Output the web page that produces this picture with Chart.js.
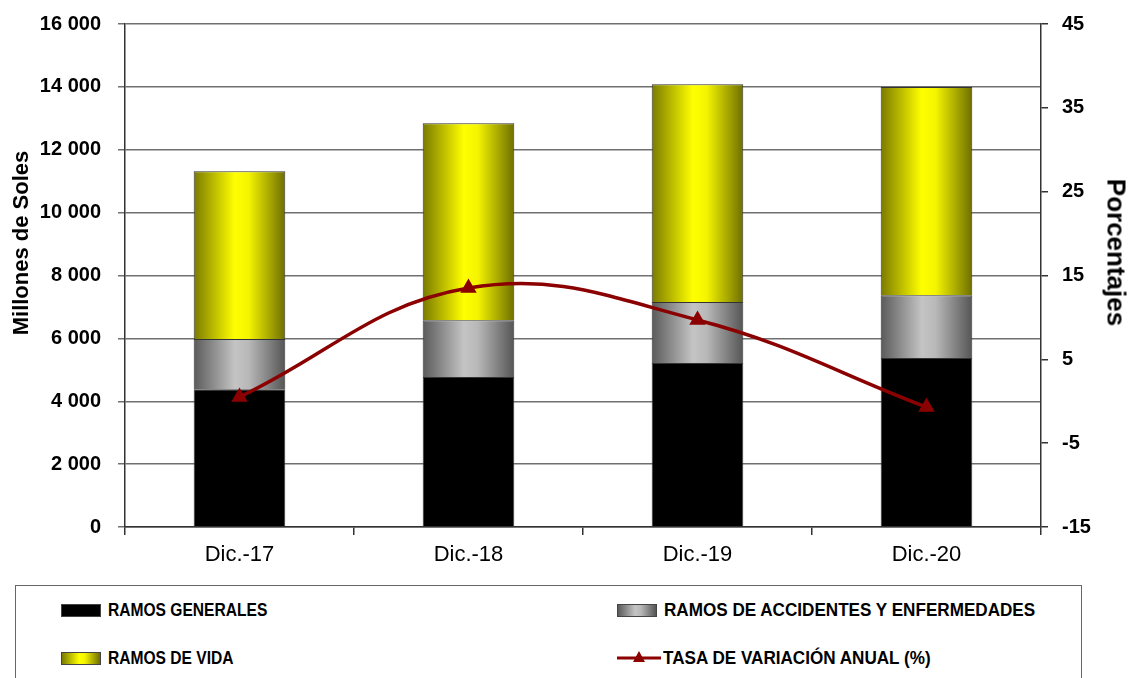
<!DOCTYPE html>
<html>
<head>
<meta charset="utf-8">
<script src="https://cdn.jsdelivr.net/npm/chart.js@4.4.1/dist/chart.umd.min.js"></script>
<style>
  html, body { margin: 0; padding: 0; background: #fff; }
  body { width: 1141px; height: 678px; position: relative; overflow: hidden;
         font-family: 'Liberation Sans', Arial, sans-serif; }
  #wrap { position: absolute; left: 0; top: 0; width: 1141px; height: 580px; }
  .ttl { position: absolute; font-weight: bold; color: #000; white-space: nowrap;
         transform-origin: center center; }
  #legend { position: absolute; left: 15px; top: 585px; width: 1067px; height: 110px;
            border: 1.5px solid #666; border-bottom: none; box-sizing: border-box; }
  .item { position: absolute; display: flex; align-items: center; font-weight: bold;
          font-size: 19px; color: #000; white-space: nowrap; height: 24px; }
  .item span { display: inline-block; transform-origin: left center; }
  .sw { width: 40px; height: 13px; margin-right: 7px; box-sizing: border-box; border: 1px solid #444; }
</style>
</head>
<body>
<div id="wrap"><canvas id="c"></canvas></div>
<div class="ttl" style="font-size:22px; left:-74px; top:230px; width:190px; text-align:center; transform:rotate(-90deg);">Millones de Soles</div>
<div class="ttl" style="font-size:26px; left:1041px; top:237px; width:150px; text-align:center; transform:rotate(90deg);">Porcentajes</div>
<div id="legend"></div>
<script>
// datos
const categorias = ['Dic.-17', 'Dic.-18', 'Dic.-19', 'Dic.-20'];
const ramosGenerales = [4380, 4770, 5215, 5375];
const ramosAccidentes = [1600, 1810, 1940, 2000];
const ramosVida = [5340, 6265, 6930, 6620];
const tasaVariacion = [0.5, 13.5, 9.7, -0.7];
const ticksIzq = [0, 2000, 4000, 6000, 8000, 10000, 12000, 14000, 16000];
const ticksDer = [-15, -5, 5, 15, 25, 35, 45];

const FONT = "'Liberation Sans', Arial, sans-serif";
const BAR_PCT = 0.4;
const ROJO = '#8B0000';

const GRIS = [[0, '#5a5a5a'], [0.45, '#c4c4c4'], [0.6, '#b8b8b8'], [1, '#555555']];
const AMARILLO = [[0, '#7a7a00'], [0.45, '#ffff00'], [0.6, '#f4f400'], [1, '#6e6e00']];

// degradado horizontal tipo cilindro para cada barra
function relleno(stops, solido) {
    return ctx => {
        const chart = ctx.chart;
        const area = chart.chartArea;
        if (!area || ctx.dataIndex === undefined || !chart.scales.x) return solido;
        const x = chart.scales.x.getPixelForValue(ctx.dataIndex);
        const w = (area.right - area.left) / categorias.length * BAR_PCT;
        const g = chart.ctx.createLinearGradient(x - w / 2, 0, x + w / 2, 0);
        stops.forEach(([o, c]) => g.addColorStop(o, c));
        return g;
    };
}

const fmt = v => String(v).replace(/\B(?=(\d{3})+(?!\d))/g, ' ');

// ancho fijo del eje y sin relleno extra arriba/abajo
const fijarEje = ancho => s => { s.width = ancho; s.paddingTop = 0; s.paddingBottom = 0; };

new Chart(document.getElementById('c'), {
    type: 'bar',
    data: {
        labels: categorias,
        datasets: [
            {
                label: 'RAMOS GENERALES', data: ramosGenerales, backgroundColor: '#000',
                borderColor: '#333', borderWidth: 1, order: 1
            },
            {
                label: 'RAMOS DE ACCIDENTES Y ENFERMEDADES', data: ramosAccidentes,
                backgroundColor: relleno(GRIS, '#aaa'), borderColor: '#333', borderWidth: 1, order: 1
            },
            {
                label: 'RAMOS DE VIDA', data: ramosVida,
                backgroundColor: relleno(AMARILLO, '#ff0'), borderColor: '#333', borderWidth: 1, order: 1
            },
            {
                type: 'line', label: 'TASA DE VARIACIÓN ANUAL (%)', data: tasaVariacion, yAxisID: 'y1',
                borderColor: ROJO, backgroundColor: ROJO, borderWidth: 3.5, tension: 0.4,
                pointStyle: 'triangle', pointRadius: 6, pointBackgroundColor: ROJO, pointBorderColor: ROJO,
                order: 0
            }
        ]
    },
    options: {
        responsive: true,
        maintainAspectRatio: false,
        animation: false,
        categoryPercentage: 1,
        barPercentage: BAR_PCT,
        layout: {padding: {top: 24, left: 0, right: 0, bottom: 0}},
        plugins: {legend: {display: false}, tooltip: {enabled: false}},
        scales: {
            x: {
                stacked: true,
                grid: {offset: true, drawOnChartArea: false, tickLength: 8, color: '#333', lineWidth: 1.5},
                border: {color: '#333', width: 1.5},
                ticks: {color: '#000', font: {family: FONT, size: 22}, padding: 7},
                afterFit: s => { s.height = 53; }
            },
            y: {
                stacked: true,
                min: 0, max: 16000,
                afterBuildTicks: s => { s.ticks = ticksIzq.map(v => ({value: v})); },
                grid: {color: '#707070', lineWidth: 1.5, tickLength: 7},
                border: {color: '#333', width: 1.5},
                ticks: {color: '#000', font: {family: FONT, size: 20, weight: 'bold'}, padding: 17, callback: v => fmt(v)},
                afterFit: fijarEje(125)
            },
            y1: {
                position: 'right',
                min: -15, max: 45,
                afterBuildTicks: s => { s.ticks = ticksDer.map(v => ({value: v})); },
                grid: {drawOnChartArea: false, color: '#333', lineWidth: 1.5, tickLength: 7},
                border: {color: '#333', width: 1.5},
                ticks: {color: '#000', font: {family: FONT, size: 20, weight: 'bold'}, padding: 14},
                afterFit: fijarEje(100)
            }
        }
    }
});

// leyenda en recuadro inferior
const leyenda = [
    {txt: 'RAMOS GENERALES', x: 45, y: 12, k: 0.82, sw: 'background:#000;'},
    {txt: 'RAMOS DE ACCIDENTES Y ENFERMEDADES', x: 601, y: 12, k: 0.9,
        sw: 'background:linear-gradient(90deg,#5a5a5a,#c4c4c4 45%,#b8b8b8 60%,#555);'},
    {txt: 'RAMOS DE VIDA', x: 45, y: 60, k: 0.82,
        sw: 'background:linear-gradient(90deg,#7a7a00,#ffff00 45%,#f4f400 60%,#6e6e00);'},
    {txt: 'TASA DE VARIACIÓN ANUAL (%)', x: 601, y: 60, k: 0.9, line: true}
];
const box = document.getElementById('legend');
leyenda.forEach(it => {
    const d = document.createElement('div');
    d.className = 'item';
    d.style.left = it.x + 'px';
    d.style.top = it.y + 'px';
    const mark = it.line
        ? `<svg width="44" height="16" style="margin-right:2px"><line x1="0" y1="8" x2="44" y2="8" stroke="${ROJO}" stroke-width="3"/><polygon points="22,1 28,12 16,12" fill="${ROJO}"/></svg>`
        : `<div class="sw" style="${it.sw}"></div>`;
    d.innerHTML = mark + `<span style="transform:scaleX(${it.k})">` + it.txt + '</span>';
    box.appendChild(d);
});
</script>
</body>
</html>
